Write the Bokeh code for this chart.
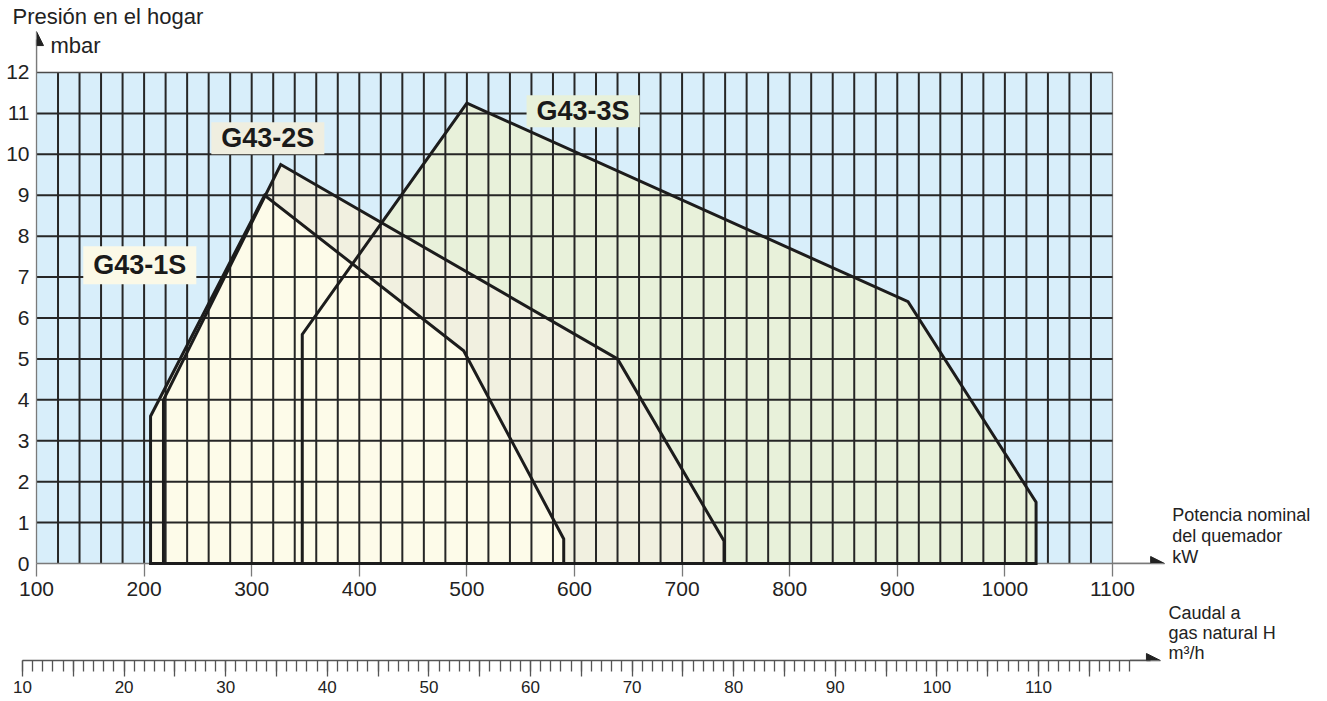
from bokeh.plotting import figure
from bokeh.models import Range1d, FixedTicker, Label, Arrow, NormalHead, CustomJSTickFormatter
from bokeh.layouts import column, row
from bokeh.embed import file_html
from bokeh.resources import INLINE

# ---------------- data ----------------
models = ["G43-1S", "G43-2S", "G43-3S"]
g1_kw = [206, 206, 312, 497, 590, 590]
g1_mbar = [0, 3.6, 9.0, 5.2, 0.6, 0]
g2_kw = [218, 218, 327, 640, 739, 739]
g2_mbar = [0, 4.0, 9.75, 5.0, 0.55, 0]
g3_kw = [347, 347, 500, 910, 1029, 1029]
g3_mbar = [0, 5.6, 11.25, 6.4, 1.5, 0]

kw_ticks = [100, 200, 300, 400, 500, 600, 700, 800, 900, 1000, 1100]
mbar_ticks = [0, 1, 2, 3, 4, 5, 6, 7, 8, 9, 10, 11, 12]
flow_major = list(range(10, 116, 5))
flow_minor = list(range(10, 120))
kw_grid_step = 20

label_kw = [196, 315, 608]
label_mbar = [7.29, 10.39, 11.05]

fills = ["#fdfbe9", "#f1f0e0", "#e8f1da"]
label_bg = ["#fbf9e7", "#efeee0", "#e8f1da"]
bg_blue = "#d8eefa"
dark = "#262626"
grey = "#7a7a7a"
txt = "#222222"
FONT = "Liberation Sans"

# ---------------- main figure ----------------
p = figure(width=1327, height=603, x_range=Range1d(100, 1295.2), y_range=Range1d(0, 13.026),
           output_backend="svg", toolbar_location=None,
           min_border_left=36, min_border_right=5, min_border_top=30, min_border_bottom=40,
           background_fill_color="white", border_fill_color="white", outline_line_color=None)
p.xgrid.visible = False
p.ygrid.visible = False

p.title.text = "Presión en el hogar"
p.title.align = "left"
p.title.offset = -24
p.title.standoff = 3
p.title.text_font = FONT
p.title.text_font_size = "22px"
p.title.text_font_style = "normal"
p.title.text_color = txt

x_lo, x_hi = kw_ticks[0], kw_ticks[-1]
y_lo, y_hi = mbar_ticks[0], mbar_ticks[-1]

p.quad(left=[x_lo], right=[x_hi], bottom=[y_lo], top=[y_hi], fill_color=bg_blue, line_color=None)

# fills (3S bottom, 1S top)
p.patches(xs=[g3_kw, g2_kw, g1_kw], ys=[g3_mbar, g2_mbar, g1_mbar],
          fill_color=[fills[2], fills[1], fills[0]], line_color=None)

# grid
vx = list(range(x_lo + kw_grid_step, x_hi, kw_grid_step))
p.segment(x0=vx, y0=[y_lo] * len(vx), x1=vx, y1=[y_hi] * len(vx), line_color=dark, line_width=2)
p.segment(x0=[x_hi], y0=[y_lo], x1=[x_hi], y1=[y_hi], line_color=grey, line_width=1.3)
hy = mbar_ticks[1:-1]
p.segment(x0=[x_lo] * len(hy), y0=hy, x1=[x_hi] * len(hy), y1=hy, line_color=dark, line_width=2)
p.segment(x0=[x_lo], y0=[y_hi], x1=[x_hi], y1=[y_hi], line_color="#4a4a4a", line_width=1.5)

# outlines (above the axis line)
p.patches(xs=[g3_kw, g2_kw, g1_kw], ys=[g3_mbar, g2_mbar, g1_mbar],
          fill_color=None, line_color="#1c1c1c", line_width=3, line_join="miter", level="overlay")

# axes
p.xaxis.bounds = (100, 1135.3)
p.xaxis.ticker = FixedTicker(ticks=kw_ticks)
p.xaxis.major_tick_out = 13
p.xaxis.major_tick_in = 0
p.xaxis.minor_tick_out = 0
p.xaxis.minor_tick_in = 0
p.xaxis.major_tick_line_color = grey
p.xaxis.major_tick_line_width = 1.3
p.xaxis.axis_line_color = grey
p.xaxis.axis_line_width = 1.3
p.xaxis.major_label_text_font = FONT
p.xaxis.major_label_text_font_size = "21px"
p.xaxis.major_label_text_color = txt
p.xaxis.major_label_standoff = 5

p.yaxis.bounds = (0, 12.8)
p.yaxis.ticker = FixedTicker(ticks=mbar_ticks)
p.yaxis.major_tick_out = 0
p.yaxis.major_tick_in = 0
p.yaxis.minor_tick_out = 0
p.yaxis.minor_tick_in = 0
p.yaxis.axis_line_color = grey
p.yaxis.axis_line_width = 1.3
p.yaxis.major_label_text_font = FONT
p.yaxis.major_label_text_font_size = "21px"
p.yaxis.major_label_text_color = txt
p.yaxis.major_label_standoff = 7

# axis arrows
p.add_layout(Arrow(end=NormalHead(size=14, fill_color=txt, line_color=txt, line_width=1),
                   x_start=x_hi, y_start=0, x_end=1148.5, y_end=0, line_color=grey, line_width=1.3))
p.add_layout(Arrow(end=NormalHead(size=14, fill_color=txt, line_color=txt, line_width=1),
                   x_start=x_lo, y_start=y_hi, x_end=x_lo, y_end=13.0, line_color=grey, line_width=1.3))

# texts
p.add_layout(Label(x=113, y=12.66, text="mbar", text_font=FONT, text_font_size="22px",
                   text_align="left", text_baseline="middle", text_color=txt))
for t, yy in zip(["Potencia nominal", "del quemador", "kW"], [1.197, 0.684, 0.171]):
    p.add_layout(Label(x=1155.5, y=yy, text=t, text_font=FONT, text_font_size="18px",
                       text_align="left", text_baseline="middle", text_color=txt))

pads = [(10, 4), (10, 1), (10, 1)]
for name, xk, ym, bg, pad in zip(models, label_kw, label_mbar, label_bg, pads):
    p.add_layout(Label(x=xk, y=ym, text=name, text_font=FONT, text_font_size="27px",
                       text_font_style="bold", text_align="center", text_baseline="middle",
                       text_color="#1a1a1a", background_fill_color=bg, padding=pad))

# ---------------- secondary axis figure ----------------
p2 = figure(width=1327, height=95, x_range=Range1d(10, 137.95), y_range=Range1d(0, 57),
            output_backend="svg", toolbar_location=None, y_axis_location=None,
            min_border_left=22, min_border_right=5, min_border_top=0, min_border_bottom=38,
            background_fill_color="white", border_fill_color="white", outline_line_color=None)
p2.xgrid.visible = False
p2.ygrid.visible = False
p2.xaxis.bounds = (10, 121.0)
p2.xaxis.ticker = FixedTicker(ticks=flow_major, minor_ticks=flow_minor)
p2.xaxis.major_tick_out = 16
p2.xaxis.major_tick_in = 0
p2.xaxis.minor_tick_out = 11
p2.xaxis.minor_tick_in = 0
p2.xaxis.major_tick_line_color = "#555555"
p2.xaxis.minor_tick_line_color = "#555555"
p2.xaxis.major_tick_line_width = 1.3
p2.xaxis.minor_tick_line_width = 1.3
p2.xaxis.axis_line_color = "#555555"
p2.xaxis.axis_line_width = 1.3
p2.xaxis.formatter = CustomJSTickFormatter(code="return (Math.round(tick) % 10 === 0) ? tick.toFixed(0) : '';")
p2.xaxis.major_label_text_font = FONT
p2.xaxis.major_label_text_font_size = "17px"
p2.xaxis.major_label_text_color = txt
p2.xaxis.major_label_standoff = 4

p2.add_layout(Arrow(end=NormalHead(size=14, fill_color=txt, line_color=txt, line_width=1),
                    x_start=119, y_start=0, x_end=122.0, y_end=0, line_color="#555555", line_width=1.3))
for t, yy in zip(["Caudal a", "gas natural H", "m³/h"], [48, 28, 8]):
    p2.add_layout(Label(x=122.8, y=yy, text=t, text_font=FONT, text_font_size="18px",
                        text_align="left", text_baseline="middle", text_color=txt))

layout = column(p, row(p2))
open("out.html", "w").write(file_html(layout, INLINE))
